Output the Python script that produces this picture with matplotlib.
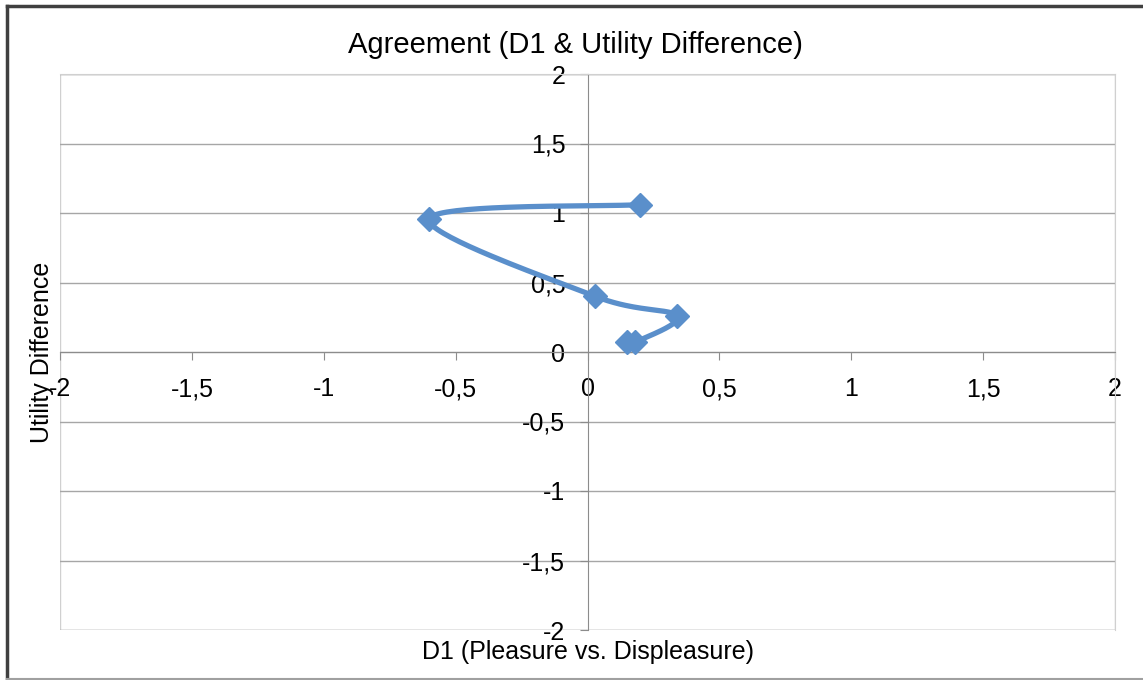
import numpy as np
import matplotlib.pyplot as plt
from matplotlib.lines import Line2D
from matplotlib.patches import Rectangle
from matplotlib.ticker import FuncFormatter, MultipleLocator

# Werte
d1 = [0.20, -0.60, 0.03, 0.34, 0.18, 0.15]
utility = [1.06, 0.96, 0.40, 0.26, 0.07, 0.07]

title = 'Agreement (D1 & Utility Difference)'
xlabel = 'D1 (Pleasure vs. Displeasure)'
ylabel = 'Utility Difference'

plt.rcParams['font.family'] = ['Liberation Sans', 'DejaVu Sans']


def smooth(xs, ys, n=40):
    # Excel-artige Glättung (Catmull-Rom über Bezier-Kontrollpunkte)
    px = np.array(xs, float)
    py = np.array(ys, float)
    outx, outy = [], []
    for i in range(len(px) - 1):
        p0 = np.array([px[max(i - 1, 0)], py[max(i - 1, 0)]])
        p1 = np.array([px[i], py[i]])
        p2 = np.array([px[i + 1], py[i + 1]])
        p3 = np.array([px[min(i + 2, len(px) - 1)], py[min(i + 2, len(px) - 1)]])
        c1 = p1 + (p2 - p0) / 6
        c2 = p2 - (p3 - p1) / 6
        t = np.linspace(0, 1, n)[:, None]
        b = ((1 - t) ** 3) * p1 + 3 * ((1 - t) ** 2) * t * c1 + 3 * (1 - t) * t ** 2 * c2 + t ** 3 * p2
        outx.extend(b[:, 0])
        outy.extend(b[:, 1])
    return outx, outy


fig = plt.figure(figsize=(11.43, 6.8), dpi=100)
ax = fig.add_axes([60 / 1143, 50 / 680, 1055 / 1143, 556 / 680])

color = '#5A8FCB'
sx, sy = smooth(d1, utility)
ax.plot(sx, sy, color=color, lw=3.8, solid_capstyle='round', zorder=3)
ax.plot(d1, utility, 'D', color=color, markersize=12, zorder=4)

ax.set_xlim(-2, 2)
ax.set_ylim(-2, 2)
ax.xaxis.set_major_locator(MultipleLocator(0.5))
ax.yaxis.set_major_locator(MultipleLocator(0.5))
fmt = FuncFormatter(lambda v, p: ('%g' % v).replace('.', ','))
ax.xaxis.set_major_formatter(fmt)
ax.yaxis.set_major_formatter(fmt)

ax.grid(axis='y', color='#A6A6A6', lw=1)
ax.set_axisbelow(True)

ax.spines['left'].set_position(('data', 0))
ax.spines['bottom'].set_position(('data', 0))
ax.spines['left'].set_color('#8C8C8C')
ax.spines['bottom'].set_color('#8C8C8C')
for s in ['top', 'right']:
    ax.spines[s].set_color('#D0D0D0')
ax.tick_params(axis='both', direction='out', length=6, color='#8C8C8C', labelsize=18)
ax.tick_params(axis='x', pad=12)
ax.tick_params(axis='y', pad=10)

# Rahmen der Zeichenfläche
ax.add_patch(Rectangle((0, 0), 1, 1, transform=ax.transAxes, fill=False,
                       edgecolor='#D0D0D0', lw=1, zorder=0))

fig.text(575 / 1143, 1 - 45 / 680, title, ha='center', va='center', fontsize=21)
fig.text(588 / 1143, 1 - 652 / 680, xlabel, ha='center', va='center', fontsize=18)
fig.text(42 / 1143, 1 - 352 / 680, ylabel, ha='center', va='center', rotation=90, fontsize=18)

# äußerer Rahmen: links und oben dunkel, unten hellgrau
fig.add_artist(Line2D([7 / 1143, 7 / 1143], [0, 1 - 6 / 680], transform=fig.transFigure,
                      color='#404040', lw=2.5))
fig.add_artist(Line2D([7 / 1143, 1], [1 - 6 / 680, 1 - 6 / 680], transform=fig.transFigure,
                      color='#404040', lw=2.5))
fig.add_artist(Line2D([7 / 1143, 1], [1.5 / 680, 1.5 / 680], transform=fig.transFigure,
                      color='#A0A0A0', lw=1.5))

fig.savefig('out.png', dpi=100)
